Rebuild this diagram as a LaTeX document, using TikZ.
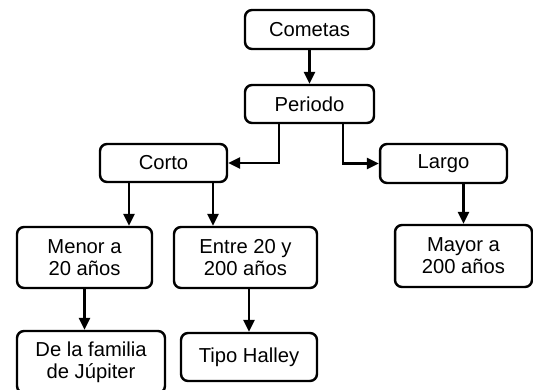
\documentclass[tikz,border=0pt]{standalone}
\usepackage{fontspec}
\setmainfont{Liberation Sans}
\usepackage{tikz}
\usetikzlibrary{positioning, calc, arrows.meta}

\begin{document}
\begin{tikzpicture}[
    x=0.02cm, y=-0.02cm,
    box/.style={draw, rounded corners=4pt, line width=1.4pt, align=center,
                font=\fontsize{11.5}{12.6}\selectfont, inner sep=2pt},
    arw/.style={-{Triangle[length=0.24cm, width=0.22cm]}, line width=1.4pt},
]
\useasboundingbox (0,0) rectangle (533,389);

% --- Top levels ---
\node[box, minimum width=2.58cm, minimum height=0.78cm] (cometas) at (309.5, 29.5)
    {Cometas};
\node[box, minimum width=2.58cm, minimum height=0.76cm] (periodo) at (309.5, 104)
    {Periodo};

% --- Period classes ---
\node[box, minimum width=2.54cm, minimum height=0.76cm] (corto) at (163.5, 163)
    {Corto};
\node[box, minimum width=2.54cm, minimum height=0.78cm] (largo) at (443.5, 163.5)
    {Largo};

% --- Ranges ---
\node[box, minimum width=2.70cm, minimum height=1.22cm] (menor) at (84.5, 257.5)
    {Menor a \\ 20 años};
\node[box, minimum width=2.86cm, minimum height=1.22cm] (entre) at (245.5, 257.5)
    {Entre 20 y \\ 200 años};
\node[box, minimum width=2.74cm, minimum height=1.24cm] (mayor) at (463.5, 256)
    {Mayor a \\ 200 años};

% --- Families ---
\node[box, minimum width=2.96cm, minimum height=1.24cm] (jupiter) at (91, 362)
    {De la familia \\ de Júpiter};
\node[box, minimum width=2.72cm, minimum height=0.96cm] (halley) at (249, 357)
    {Tipo Halley};

% --- Branch points ---
\coordinate (p_left) at ($(periodo.south)+(-30.5,0)$);
\coordinate (p_right) at ($(periodo.south)+(33.5,0)$);
\coordinate (c_left) at ($(corto.south)+(-34.5,0)$);
\coordinate (c_right) at ($(corto.south)+(49.5,0)$);

% --- Arrows ---
\draw[arw] (cometas) -- (periodo);
\draw[arw] (p_left) |- (corto.east);
\draw[arw] (p_right) |- (largo.west);

\draw[arw] (c_left) -- (c_left |- menor.north);
\draw[arw] (c_right) -- (c_right |- entre.north);
\draw[arw] (largo.south -| mayor.north) -- (mayor.north);

\draw[arw] (menor.south) -- (menor.south |- jupiter.north);
\draw[arw] (entre.south -| halley.north) -- (halley.north);
\end{tikzpicture}
\end{document}
